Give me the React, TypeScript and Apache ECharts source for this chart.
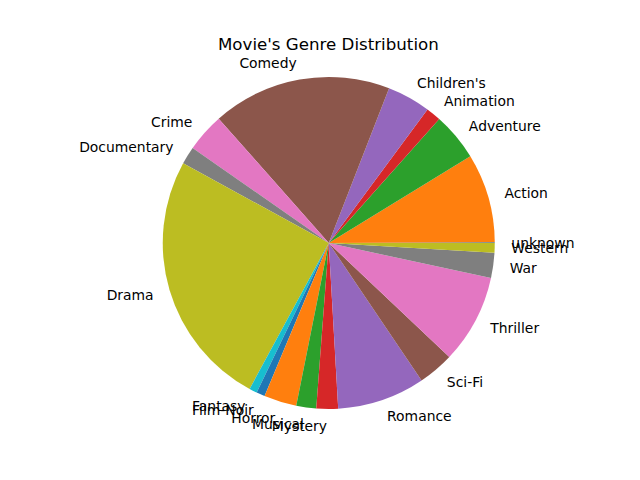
import React, { useEffect, useRef } from "react";
import * as echarts from "echarts";

const genres = [
  "unknown", "Action", "Adventure", "Animation", "Children's", "Comedy", "Crime",
  "Documentary", "Drama", "Fantasy", "Film-Noir", "Horror", "Musical", "Mystery",
  "Romance", "Sci-Fi", "Thriller", "War", "Western",
];
const counts = [2, 251, 135, 42, 122, 505, 109, 50, 725, 22, 24, 92, 56, 61, 247, 101, 251, 71, 27];
const palette = [
  "#1f77b4", "#ff7f0e", "#2ca02c", "#d62728", "#9467bd",
  "#8c564b", "#e377c2", "#7f7f7f", "#bcbd22", "#17becf",
];
const titleText = "Movie's Genre Distribution";

export default function App() {
  const ref = useRef<HTMLDivElement>(null);
  useEffect(() => {
    if (!ref.current) return;
    const chart = echarts.init(ref.current, null, { renderer: "svg" });
    const R = 166;
    chart.setOption({
      animation: false,
      backgroundColor: "#ffffff",
      title: {
        text: titleText,
        left: 213,
        top: 29,
        padding: 5,
        textStyle: {
          fontFamily: "DejaVu Sans",
          fontSize: 16.67,
          fontWeight: "normal",
          color: "#000000",
          lineHeight: 20,
        },
      },
      series: [
        {
          type: "pie",
          center: [328.75, 243],
          radius: [0, R],
          startAngle: 0,
          clockwise: false,
          avoidLabelOverlap: false,
          silent: true,
          itemStyle: { borderWidth: 0 },
          emphasis: { disabled: true },
          labelLayout: { hideOverlap: false },
          label: {
            show: true,
            position: "outside",
            formatter: "{b}",
            fontFamily: "DejaVu Sans",
            fontSize: 13.9,
            color: "#000000",
            distanceToLabelLine: 0,
          },
          labelLine: { show: false, length: R * 0.1, length2: 0 },
          data: genres.map((g, i) => ({
            name: g,
            value: counts[i],
            itemStyle: { color: palette[i % palette.length] },
          })),
        },
      ],
    });
    return () => chart.dispose();
  }, []);
  return (
    <div
      ref={ref}
      style={{ position: "fixed", left: 0, top: 0, width: 640, height: 480 }}
    />
  );
}
